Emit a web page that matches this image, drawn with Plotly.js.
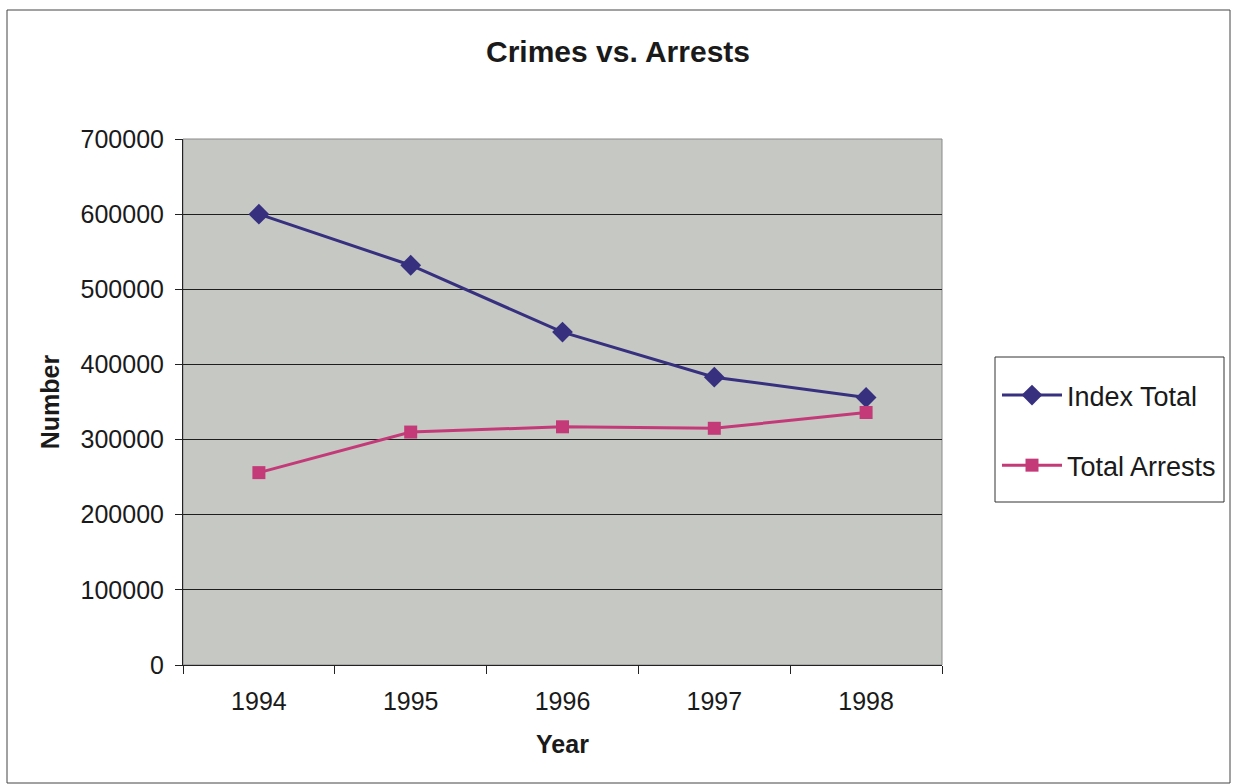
<!DOCTYPE html>
<html>
<head>
<meta charset="utf-8">
<script src="https://cdn.plot.ly/plotly-3.0.1.min.js"></script>
<style>
  html, body { margin: 0; padding: 0; background: #ffffff; }
  #chart { width: 1234px; height: 784px; }
</style>
</head>
<body>
<div id="chart"></div>
<script>
// Florida index crimes and arrests, 1994-1998
const years = ['1994', '1995', '1996', '1997', '1998'];
const indexTotal = [600000, 532000, 443000, 383000, 356000];
const totalArrests = [256000, 310000, 317000, 315000, 336000];
const yTicks = [0, 100000, 200000, 300000, 400000, 500000, 600000, 700000];

const FONT = '"Liberation Sans", Arial, sans-serif';

// plot area in pixels
const L = 183, R = 942, T = 139, B = 665, W = 1234, H = 784;
const pw = R - L, ph = B - T;
const px = x => (x - L) / pw;
const py = y => (B - y) / ph;

const traces = [
  {
    x: years, y: indexTotal, name: 'Index Total', type: 'scatter', mode: 'lines+markers',
    legendgroup: 'a',
    line: { color: '#36307f', width: 3 },
    marker: { symbol: 'diamond', size: 16, color: '#36307f' }
  },
  {
    x: years, y: totalArrests, name: 'Total Arrests', type: 'scatter', mode: 'lines+markers',
    legendgroup: 'b',
    line: { color: '#c43a78', width: 3 },
    marker: { symbol: 'square', size: 13, color: '#c43a78' }
  }
];

const layout = {
  width: W, height: H,
  margin: { l: L, r: W - R, t: T, b: H - B, pad: 0 },
  paper_bgcolor: '#ffffff',
  plot_bgcolor: '#c6c8c4',
  font: { family: FONT, color: '#1a1a1a', size: 25 },
  title: {
    text: '<b>Crimes vs. Arrests</b>',
    font: { family: FONT, size: 30, color: '#1a1a1a' },
    x: px(618), xref: 'paper', xanchor: 'center',
    y: 1 - 51 / H, yref: 'container', yanchor: 'middle'
  },
  xaxis: {
    type: 'category',
    range: [-0.5, 4.5],
    tickson: 'boundaries',
    ticks: 'outside', ticklen: 8, tickcolor: '#222', tickwidth: 1,
    showgrid: false,
    showline: true, linecolor: '#222', linewidth: 1,
    tickfont: { family: FONT, size: 25, color: '#1a1a1a' },
    ticklabelstandoff: 14,
    title: { text: '<b>Year</b>', font: { family: FONT, size: 25, color: '#1a1a1a' }, standoff: 21 },
    fixedrange: true
  },
  yaxis: {
    range: [0, 700000],
    tickvals: yTicks,
    ticktext: yTicks.map(String),
    ticks: 'outside', ticklen: 7, tickcolor: '#222', tickwidth: 1,
    showgrid: true, gridcolor: '#1e1e1e', gridwidth: 1,
    zeroline: false,
    showline: true, linecolor: '#222', linewidth: 1,
    tickfont: { family: FONT, size: 25, color: '#1a1a1a' },
    ticklabelstandoff: 6,
    title: { text: '<b>Number</b>', font: { family: FONT, size: 25, color: '#1a1a1a' }, standoff: 13 },
    fixedrange: true
  },
  legend: {
    x: px(997), y: py(371), xanchor: 'left', yanchor: 'top',
    xref: 'paper', yref: 'paper',
    bgcolor: 'rgba(0,0,0,0)', borderwidth: 0,
    font: { family: FONT, size: 27, color: '#1a1a1a' },
    tracegroupgap: 32,
    itemwidth: 60
  },
  shapes: [
    // outer chart frame
    { type: 'rect', xref: 'paper', yref: 'paper',
      x0: px(7), x1: px(1230), y0: py(783), y1: py(10),
      line: { color: '#444444', width: 1 }, layer: 'below' },
    // plot-area border on top and right
    { type: 'rect', xref: 'paper', yref: 'paper',
      x0: 0, x1: 1, y0: 0, y1: 1,
      line: { color: '#8a8a8a', width: 1 }, layer: 'below' },
    // legend box
    { type: 'rect', xref: 'paper', yref: 'paper',
      x0: px(995), x1: px(1224), y0: py(502), y1: py(357),
      fillcolor: '#ffffff', line: { color: '#333333', width: 1 }, layer: 'below' }
  ],
  showlegend: true
};

Plotly.newPlot('chart', traces, layout, { displayModeBar: false, staticPlot: true });
</script>
</body>
</html>
